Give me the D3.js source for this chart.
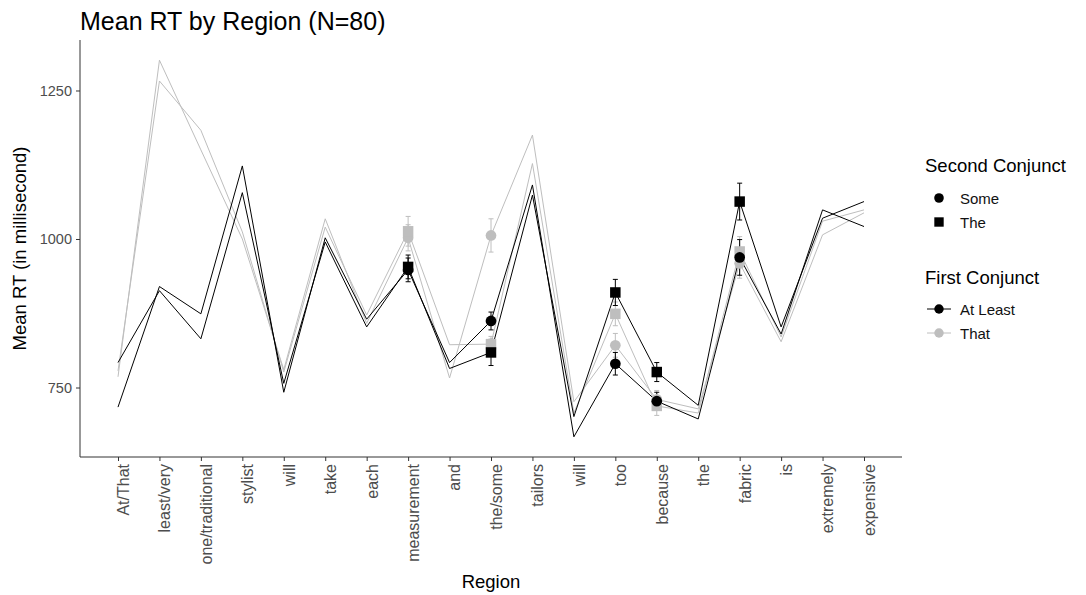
<!DOCTYPE html>
<html>
<head>
<meta charset="utf-8">
<script src="https://cdn.jsdelivr.net/npm/d3@7"></script>
<style>
  body { margin: 0; background: #fff; }
  svg { font-family: "Liberation Sans", Arial, sans-serif; }
</style>
</head>
<body>
<div class="chart"></div>
<script>
// regions of the sentence (x axis)
var regions = ["At/That","least/very","one/traditional","stylist","will","take","each",
  "measurement","and","the/some","tailors","will","too","because","the","fabric","is",
  "extremely","expensive"];

var firstConjunct = ["At Least","That"];
var secondConjunct = ["Some","The"];
var yTicks = [750, 1000, 1250];

// mean RT per region, one array per condition
var atLeastSome = [717, 920, 874, 1123, 742, 1002, 865, 948, 792, 862, 1091, 667, 790, 727, 697, 969, 840, 1049, 1021];
var atLeastThe  = [792, 913, 832, 1078, 757, 995, 852, 953, 782, 809, 1074, 701, 910, 776, 720, 1063, 852, 1035, 1063];
var thatSome    = [768, 1301, 1150, 1000, 780, 1034, 858, 1002, 766, 1006, 1175, 726, 821, 730, 714, 959, 827, 1007, 1044];
var thatThe     = [778, 1266, 1183, 1012, 776, 1020, 872, 1013, 822, 823, 1127, 707, 874, 719, 707, 979, 835, 1030, 1049];

// critical regions with points and error bars (index into regions)
var criticalIdx = [7, 9, 12, 13, 15];
var atLeastSomeSE = [20, 15, 19, 15, 30];
var atLeastTheSE  = [20, 22, 22, 16, 31];
var thatSomeSE    = [22, 28, 20, 15, 25];
var thatTheSE     = [25, 13, 20, 16, 25];

var series = [
  {first: "That", second: "Some", values: thatSome, se: thatSomeSE},
  {first: "That", second: "The", values: thatThe, se: thatTheSE},
  {first: "At Least", second: "Some", values: atLeastSome, se: atLeastSomeSE},
  {first: "At Least", second: "The", values: atLeastThe, se: atLeastTheSE}
];

drawChart();

function drawChart(){
    var w = 1086, h = 595;
    var panel = {left: 80, right: 902, top: 40, bottom: 457};

    var color = d3.scaleOrdinal().domain(firstConjunct).range(["#000000", "#bebebe"]);
    var shape = d3.scaleOrdinal().domain(secondConjunct).range([d3.symbolCircle, d3.symbolSquare]);
    var shapeSize = d3.scaleOrdinal().domain(secondConjunct).range([90, 110]);

    var x = d3.scalePoint()
              .domain(d3.range(regions.length))
              .range([118, 864]);
    var y = d3.scaleLinear()
              .domain([633, 1335])
              .range([panel.bottom, panel.top]);

    var svg = d3.select("div.chart")
              .append("svg")
              .attr("width", w)
              .attr("height", h);

    //title
    svg.append("text")
        .attr("x", 80)
        .attr("y", 30)
        .attr("font-size", 25)
        .attr("fill", "#000")
        .text("Mean RT by Region (N=80)");

    //y axis
    var yAxis = svg.append("g")
        .attr("transform", "translate(" + panel.left + ",0)")
        .call(d3.axisLeft(y).tickValues(yTicks).tickFormat(d3.format("d")).tickSize(4).tickPadding(4));
    yAxis.select(".domain").attr("d", "M0," + panel.top + "V" + panel.bottom).attr("stroke", "#333");
    yAxis.selectAll(".tick line").attr("stroke", "#333");
    yAxis.selectAll(".tick text").attr("font-size", 14.5).attr("fill", "#4d4d4d")
        .attr("font-family", "Liberation Sans, Arial, sans-serif");

    //x axis
    var xAxis = svg.append("g")
        .attr("transform", "translate(0," + panel.bottom + ")")
        .call(d3.axisBottom(x).tickFormat(function(i){ return regions[i]; }).tickSize(4));
    xAxis.select(".domain").attr("d", "M" + panel.left + ",0H" + panel.right).attr("stroke", "#333");
    xAxis.selectAll(".tick line").attr("stroke", "#333");
    xAxis.selectAll(".tick text")
        .attr("font-size", 16)
        .attr("fill", "#4d4d4d")
        .attr("font-family", "Liberation Sans, Arial, sans-serif")
        .attr("text-anchor", "end")
        .attr("transform", "rotate(-90)")
        .attr("x", -7)
        .attr("y", 0)
        .attr("dy", "0.65em");

    //axis titles
    svg.append("text")
        .attr("x", (panel.left + panel.right) / 2)
        .attr("y", 588)
        .attr("text-anchor", "middle")
        .attr("font-size", 18.5)
        .text("Region");
    svg.append("text")
        .attr("transform", "translate(26," + ((panel.top + panel.bottom) / 2) + ") rotate(-90)")
        .attr("text-anchor", "middle")
        .attr("font-size", 18.5)
        .text("Mean RT (in millisecond)");

    //lines
    var line = d3.line()
        .x(function(d, i){ return x(i); })
        .y(function(d){ return y(d); });

    svg.selectAll(".cond-line")
        .data(series)
        .enter()
        .append("path")
            .attr("class", "cond-line")
            .attr("d", function(d){ return line(d.values); })
            .attr("fill", "none")
            .attr("stroke", function(d){ return color(d.first); })
            .attr("stroke-width", 1);

    //error bars and points at critical regions
    var pts = [];
    series.forEach(function(s){
        criticalIdx.forEach(function(idx, k){
            pts.push({first: s.first, second: s.second, i: idx, v: s.values[idx], se: s.se[k]});
        });
    });

    var bars = svg.selectAll(".err")
        .data(pts)
        .enter()
        .append("g")
            .attr("class", "err")
            .attr("stroke", function(d){ return color(d.first); })
            .attr("stroke-width", 1);
    bars.append("line")
        .attr("x1", function(d){ return x(d.i); })
        .attr("x2", function(d){ return x(d.i); })
        .attr("y1", function(d){ return y(d.v - d.se); })
        .attr("y2", function(d){ return y(d.v + d.se); });
    bars.append("line")
        .attr("x1", function(d){ return x(d.i) - 2.5; })
        .attr("x2", function(d){ return x(d.i) + 2.5; })
        .attr("y1", function(d){ return y(d.v - d.se); })
        .attr("y2", function(d){ return y(d.v - d.se); });
    bars.append("line")
        .attr("x1", function(d){ return x(d.i) - 2.5; })
        .attr("x2", function(d){ return x(d.i) + 2.5; })
        .attr("y1", function(d){ return y(d.v + d.se); })
        .attr("y2", function(d){ return y(d.v + d.se); });

    svg.selectAll(".pt")
        .data(pts)
        .enter()
        .append("path")
            .attr("class", "pt")
            .attr("d", function(d){ return d3.symbol().type(shape(d.second)).size(shapeSize(d.second))(); })
            .attr("transform", function(d){ return "translate(" + x(d.i) + "," + y(d.v) + ")"; })
            .attr("fill", function(d){ return color(d.first); });

    //legends
    var lg = svg.append("g").attr("font-size", 15);
    lg.append("text").attr("x", 925).attr("y", 172).attr("font-size", 18.5).text("Second Conjunct");
    secondConjunct.forEach(function(s, i){
        var yy = 198 + i * 24;
        lg.append("path")
            .attr("d", d3.symbol().type(shape(s)).size(shapeSize(s) * 0.8)())
            .attr("transform", "translate(939," + yy + ")")
            .attr("fill", "#000");
        lg.append("text").attr("x", 960).attr("y", yy + 5.5).attr("fill", "#111").text(s);
    });

    lg.append("text").attr("x", 925).attr("y", 284).attr("font-size", 18.5).text("First Conjunct");
    firstConjunct.forEach(function(f, i){
        var yy = 309 + i * 24;
        lg.append("line")
            .attr("x1", 927).attr("x2", 951)
            .attr("y1", yy).attr("y2", yy)
            .attr("stroke", color(f)).attr("stroke-width", 1);
        lg.append("path")
            .attr("d", d3.symbol().type(d3.symbolCircle).size(70)())
            .attr("transform", "translate(939," + yy + ")")
            .attr("fill", color(f));
        lg.append("text").attr("x", 960).attr("y", yy + 5.5).attr("fill", "#111").text(f);
    });
}
</script>
</body>
</html>
